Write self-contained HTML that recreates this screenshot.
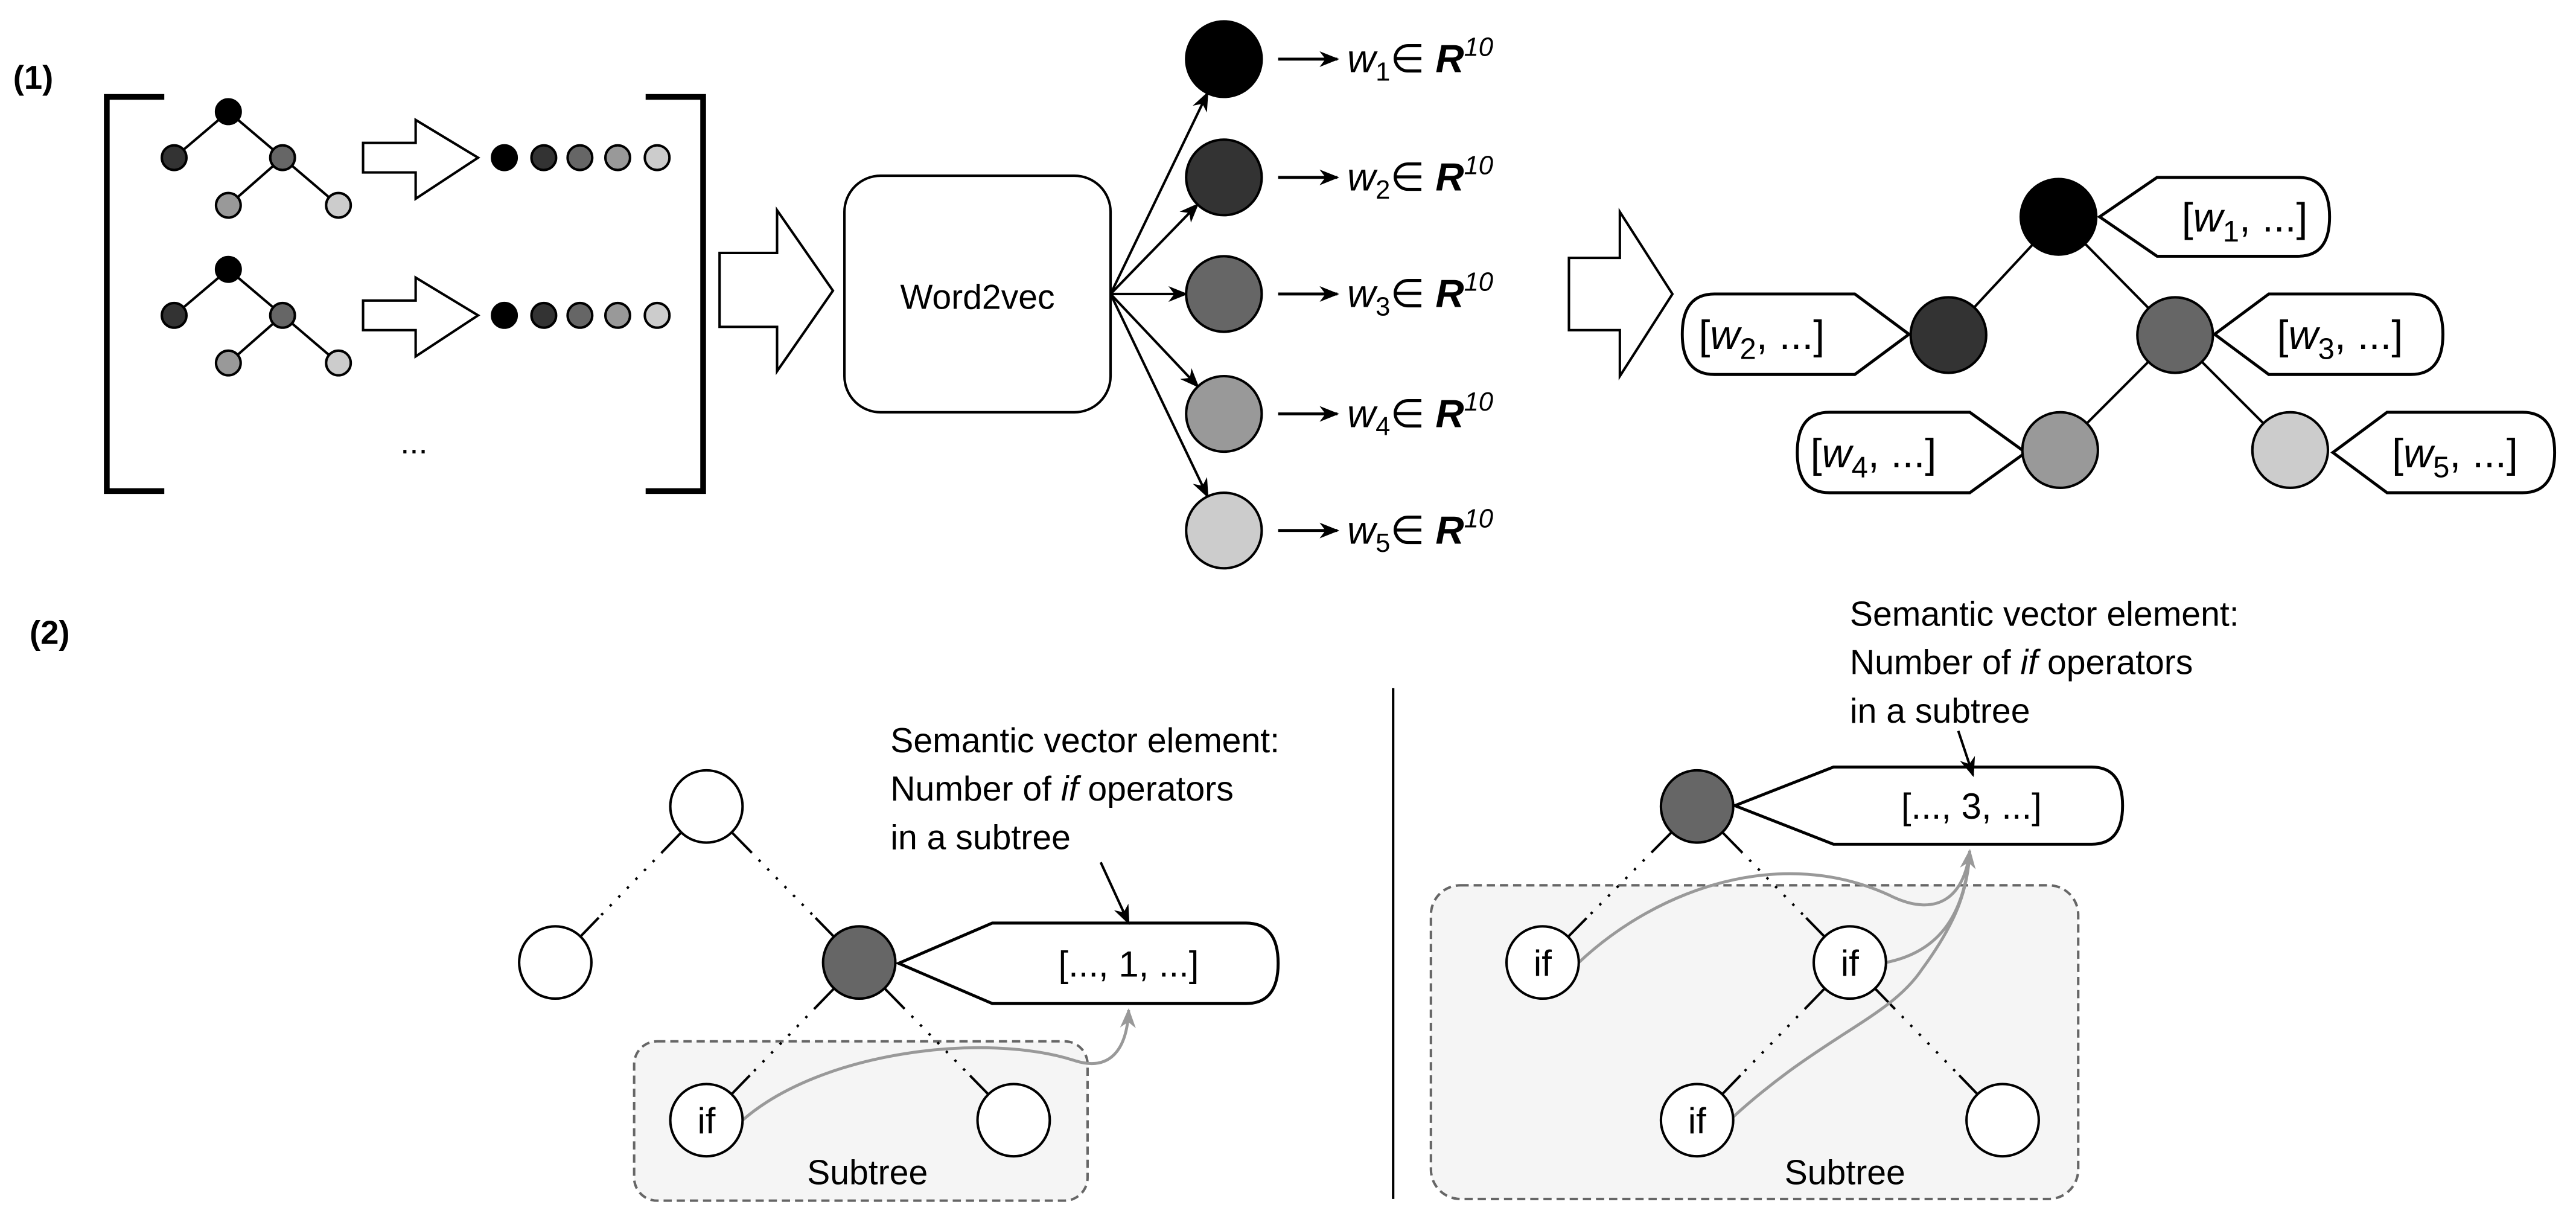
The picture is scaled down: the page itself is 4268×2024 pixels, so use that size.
<!DOCTYPE html>
<html><head><meta charset="utf-8"><style>
html,body{margin:0;padding:0;background:#fff;}
svg{display:block;}
text{font-family:"Liberation Sans",sans-serif;}
</style></head><body>
<svg id="s" xmlns="http://www.w3.org/2000/svg" width="4268" height="2024" viewBox="0 0 1568 744" preserveAspectRatio="none">
<defs>
<marker id="ab2" viewBox="0 0 10 10" refX="9" refY="5" markerWidth="12" markerHeight="12" orient="auto" markerUnits="userSpaceOnUse"><path d="M0,1 L10,5 L0,9 L3,5 z" fill="#000"/></marker>
<marker id="ag" viewBox="0 0 10 10" refX="9" refY="5" markerWidth="12" markerHeight="12" orient="auto" markerUnits="userSpaceOnUse"><path d="M0,1 L10,5 L0,9 L3,5 z" fill="#999"/></marker>
</defs>
<text x="8" y="54" font-size="20" font-weight="bold">(1)</text>
<text x="18" y="392" font-size="20" font-weight="bold">(2)</text>
<path d="M100,59 H65 V299 H100" fill="none" stroke="#000" stroke-width="3.5"/>
<path d="M393,59 H428 V299 H393" fill="none" stroke="#000" stroke-width="3.5"/>
<g id="trees" stroke="#000" stroke-width="1.5"></g>
<path d="M221,87 H253 V73 L291,96 L253,121 V105 H221 Z" fill="#fff" stroke="#000" stroke-width="1.5"/>
<path d="M221,183 H253 V169 L291,192 L253,217 V201 H221 Z" fill="#fff" stroke="#000" stroke-width="1.5"/>
<text x="252" y="276" font-size="20" text-anchor="middle">...</text>
<path d="M438,154 H473 V128 L507,177 L473,226 V199 H438 Z" fill="#fff" stroke="#000" stroke-width="1.5"/>
<rect x="514" y="107" width="162" height="144" rx="22" fill="#fff" stroke="#000" stroke-width="1.5"/>
<text x="595" y="188" font-size="21" text-anchor="middle">Word2vec</text>
<g id="w2v"></g>
<path d="M955,157 H986 V129 L1018,179 L986,229 V201 H955 Z" fill="#fff" stroke="#000" stroke-width="1.5"/>
<g id="rt"></g>
<g id="p2"></g>
</svg>
<script>
var NS="http://www.w3.org/2000/svg";
function el(p,t,a,txt){var e=document.createElementNS(NS,t);for(var k in a)e.setAttribute(k,a[k]);if(txt!==undefined)e.textContent=txt;p.appendChild(e);return e;}
var T=document.getElementById('trees');
[0,96].forEach(function(dy){
 var n=[[139,68,'#000'],[106,96,'#333'],[172,96,'#666'],[139,125,'#999'],[206,125,'#ccc']];
 [[0,1],[0,2],[2,3],[2,4]].forEach(function(e){el(T,'line',{x1:n[e[0]][0],y1:n[e[0]][1]+dy,x2:n[e[1]][0],y2:n[e[1]][1]+dy});});
 n.forEach(function(c){el(T,'circle',{cx:c[0],cy:c[1]+dy,r:7.5,fill:c[2]});});
 [[307,'#000'],[331,'#333'],[353,'#666'],[376,'#999'],[400,'#ccc']].forEach(function(c){el(T,'circle',{cx:c[0],cy:96+dy,r:7.5,fill:c[1]});});
});
var W=document.getElementById('w2v');
var ys=[36,108,179,252,323],fs=['#000','#333','#666','#999','#ccc'];
ys.forEach(function(y,i){
 var dx=745-676,dy=y-179,L=Math.sqrt(dx*dx+dy*dy),r=23;
 el(W,'line',{x1:676,y1:179,x2:745-dx/L*r,y2:y-dy/L*r,stroke:'#000','stroke-width':1.5,'marker-end':'url(#ab2)'});
 el(W,'circle',{cx:745,cy:y,r:23,fill:fs[i],stroke:'#000','stroke-width':1.5});
 el(W,'line',{x1:778,y1:y,x2:814,y2:y,stroke:'#000','stroke-width':1.8,'marker-end':'url(#ab2)'});
 var t=el(W,'text',{x:820,y:y+8,'font-size':24});
 el(t,'tspan',{'font-style':'italic'},'w');
 el(t,'tspan',{'font-size':16,dy:5},String(i+1));
 el(t,'tspan',{dy:-5},'\u2208 ');
 el(t,'tspan',{'font-style':'italic','font-weight':'bold'},'R');
 el(t,'tspan',{'font-style':'italic','font-size':16,dy:-10},'10');
});
var R=document.getElementById('rt');
var nodes=[[1253,132,'#000'],[1186,204,'#333'],[1324,204,'#666'],[1254,274,'#999'],[1394,274,'#ccc']];
[[0,1],[0,2],[2,3],[2,4]].forEach(function(e){el(R,'line',{x1:nodes[e[0]][0],y1:nodes[e[0]][1],x2:nodes[e[1]][0],y2:nodes[e[1]][1],stroke:'#000','stroke-width':1.5});});
function callR(tip,corner,right,yt,yb,lab,tx){
 var r=(yb-yt)/2,cy=(yt+yb)/2;
 el(R,'path',{d:'M'+tip+','+cy+' L'+corner+','+yt+' H'+(right-r*0.8)+' Q'+right+','+yt+' '+right+','+cy+' Q'+right+','+yb+' '+(right-r*0.8)+','+yb+' H'+corner+' Z',fill:'#fff',stroke:'#000','stroke-width':1.8});
 label(tx,cy,lab);
}
function callL(left,corner,tip,yt,yb,lab,tx){
 var r=(yb-yt)/2,cy=(yt+yb)/2;
 el(R,'path',{d:'M'+tip+','+cy+' L'+corner+','+yt+' H'+(left+r*0.8)+' Q'+left+','+yt+' '+left+','+cy+' Q'+left+','+yb+' '+(left+r*0.8)+','+yb+' H'+corner+' Z',fill:'#fff',stroke:'#000','stroke-width':1.8});
 label(tx,cy,lab);
}
function label(x,cy,n){
 var t=el(R,'text',{x:x,y:cy+9,'font-size':25});
 el(t,'tspan',{},'[');el(t,'tspan',{'font-style':'italic'},'w');
 el(t,'tspan',{'font-size':18,dy:6},n);el(t,'tspan',{dy:-6},', ...]');
}
callR(1278,1313,1418,108,156,'1',1328);
callL(1024,1129,1162,179,228,'2',1034);
callR(1348,1381,1487,179,228,'3',1386);
callL(1094,1199,1233,251,300,'4',1102);
callR(1420,1453,1555,251,300,'5',1456);
nodes.forEach(function(c){el(R,'circle',{cx:c[0],cy:c[1],r:23,fill:c[2],stroke:'#000','stroke-width':1.5});});

var P=document.getElementById('p2');
el(P,'rect',{x:386,y:634,width:276,height:97,rx:14,fill:'#f5f5f5',stroke:'#666','stroke-width':1.5,'stroke-dasharray':'5,3'});
el(P,'rect',{x:871,y:539,width:394,height:191,rx:18,fill:'#f5f5f5',stroke:'#666','stroke-width':1.5,'stroke-dasharray':'5,3'});
el(P,'line',{x1:848,y1:419,x2:848,y2:730,stroke:'#000','stroke-width':1.5});
function dd(a,b,r){
 var dx=b[0]-a[0],dy=b[1]-a[1],L=Math.sqrt(dx*dx+dy*dy),ux=dx/L,uy=dy/L,s=16;
 el(P,'line',{x1:a[0]+ux*r,y1:a[1]+uy*r,x2:a[0]+ux*(r+s),y2:a[1]+uy*(r+s),stroke:'#000','stroke-width':1.5});
 el(P,'line',{x1:b[0]-ux*r,y1:b[1]-uy*r,x2:b[0]-ux*(r+s),y2:b[1]-uy*(r+s),stroke:'#000','stroke-width':1.5});
 el(P,'line',{x1:a[0]+ux*(r+s),y1:a[1]+uy*(r+s),x2:b[0]-ux*(r+s),y2:b[1]-uy*(r+s),stroke:'#000','stroke-width':1.5,'stroke-dasharray':'1.5,6'});
}
var A=[430,491],B=[338,586],C=[523,586],D=[430,682],E=[617,682];
dd(A,B,22);dd(A,C,22);dd(C,D,22);dd(C,E,22);
var F=[1033,491],G=[939,586],H=[1126,586],I=[1033,682],J=[1219,682];
dd(F,G,22);dd(F,H,22);dd(H,I,22);dd(H,J,22);
function pent(tip,corner,right,yt,yb,txt,tx){
 var r=(yb-yt)/2,cy=(yt+yb)/2;
 el(P,'path',{d:'M'+tip+','+cy+' L'+corner+','+yt+' H'+(right-r*0.8)+' Q'+right+','+yt+' '+right+','+cy+' Q'+right+','+yb+' '+(right-r*0.8)+','+yb+' H'+corner+' Z',fill:'#fff',stroke:'#000','stroke-width':1.8});
 el(P,'text',{x:tx,y:cy+8,'font-size':22,'text-anchor':'middle'},txt);
}
pent(547,604,778,562,611,'[..., 1, ...]',687);
pent(1056,1116,1292,467,514,'[..., 3, ...]',1200);
var gc={fill:'none',stroke:'#999','stroke-width':1.8};
el(P,'path',Object.assign({d:'M452,682 C500,640 600,628 655,646 C675,652 686,640 687,615','marker-end':'url(#ag)'},gc));
el(P,'path',Object.assign({d:'M961,586 C1010,540 1085,515 1150,545 C1180,560 1196,545 1199,518','marker-end':'url(#ag)'},gc));
el(P,'path',Object.assign({d:'M1148,586 C1178,580 1196,560 1199,518'},gc));
el(P,'path',Object.assign({d:'M1055,680 C1110,630 1150,620 1170,590 C1192,560 1198,540 1199,518'},gc));
[[A,'#fff',''],[B,'#fff',''],[C,'#666',''],[D,'#fff','if'],[E,'#fff',''],[F,'#666',''],[G,'#fff','if'],[H,'#fff','if'],[I,'#fff','if'],[J,'#fff','']].forEach(function(c){
 el(P,'circle',{cx:c[0][0],cy:c[0][1],r:22,fill:c[1],stroke:'#000','stroke-width':1.5});
 if(c[2])el(P,'text',{x:c[0][0],y:c[0][1]+8,'font-size':22,'text-anchor':'middle'},c[2]);
});
el(P,'text',{x:528,y:721,'font-size':21,'text-anchor':'middle'},'Subtree');
el(P,'text',{x:1123,y:721,'font-size':21,'text-anchor':'middle'},'Subtree');
function lines(x,y){
 el(P,'text',{x:x,y:y,'font-size':21},'Semantic vector element:');
 var t=el(P,'text',{x:x,y:y+29.5,'font-size':21});
 el(t,'tspan',{},'Number of ');el(t,'tspan',{'font-style':'italic'},'if');el(t,'tspan',{},' operators');
 el(P,'text',{x:x,y:y+59,'font-size':21},'in a subtree');
}
lines(542,458);lines(1126,381);
el(P,'line',{x1:670,y1:525,x2:687,y2:562,stroke:'#000','stroke-width':1.5,'marker-end':'url(#ab2)'});
el(P,'line',{x1:1192,y1:445,x2:1201,y2:472,stroke:'#000','stroke-width':1.5,'marker-end':'url(#ab2)'});
</script>
</body></html>
